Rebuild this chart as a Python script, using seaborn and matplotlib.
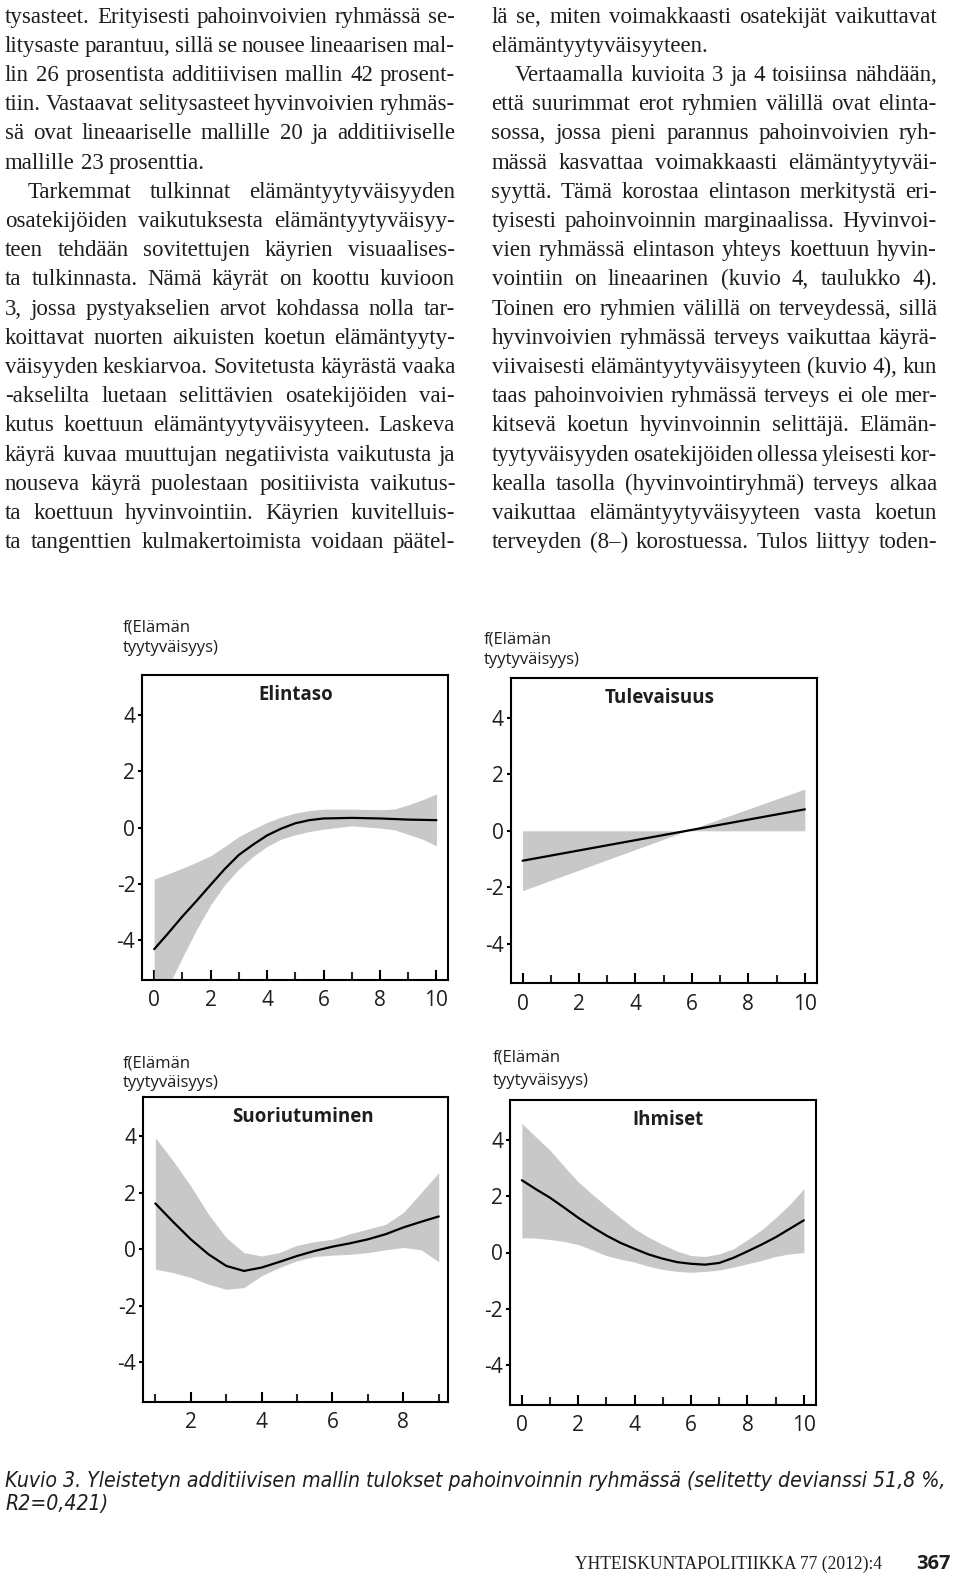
import numpy as np
import pandas as pd
import matplotlib
matplotlib.use("Agg")
import matplotlib.pyplot as plt
import seaborn as sns
from matplotlib.font_manager import FontProperties

# ---------------- data ----------------
# Panel 1: Elintaso
el_x = [0, 0.5, 1, 1.5, 2, 2.5, 3, 3.5, 4, 4.5, 5, 5.5, 6, 7, 8, 8.5, 9, 9.5, 10]
el_fit = [-4.31, -3.74, -3.15, -2.6, -2.03, -1.47, -0.97, -0.61, -0.28, -0.04, 0.15, 0.26, 0.32, 0.34, 0.32, 0.30, 0.28, 0.27, 0.26]
el_upper = [-1.83, -1.64, -1.44, -1.23, -1.0, -0.67, -0.32, -0.06, 0.18, 0.37, 0.51, 0.6, 0.65, 0.65, 0.63, 0.65, 0.8, 0.98, 1.19]
el_lower = [-6.6, -5.63, -4.6, -3.62, -2.74, -2.03, -1.47, -1.03, -0.67, -0.41, -0.26, -0.14, -0.06, 0.06, -0.02, -0.08, -0.24, -0.41, -0.65]

# Panel 2: Tulevaisuus
tu_x = [0, 5.82, 10]
tu_fit = [-1.06, 0.0, 0.76]
tu_upper = [0.0, 0.0, 1.48]
tu_lower = [-2.12, 0.0, 0.0]

# Panel 3: Suoriutuminen
su_x = [1, 1.5, 2, 2.5, 3, 3.5, 4, 4.5, 5, 5.5, 6, 6.5, 7, 7.5, 8, 8.5, 9]
su_fit = [1.62, 0.97, 0.35, -0.18, -0.59, -0.77, -0.65, -0.45, -0.24, -0.06, 0.09, 0.21, 0.35, 0.53, 0.77, 0.97, 1.16]
su_upper = [3.95, 3.13, 2.24, 1.24, 0.41, -0.12, -0.24, -0.12, 0.14, 0.27, 0.35, 0.55, 0.71, 0.88, 1.3, 2.0, 2.71]
su_lower = [-0.71, -0.83, -1.0, -1.24, -1.42, -1.36, -0.94, -0.65, -0.41, -0.26, -0.21, -0.18, -0.12, -0.02, 0.06, -0.02, -0.45]

# Panel 4: Ihmiset
ih_x = [0, 0.5, 1, 1.5, 2, 2.5, 3, 3.5, 4, 4.5, 5, 5.5, 6, 6.5, 7, 7.5, 8, 8.5, 9, 9.5, 10]
ih_fit = [2.56, 2.24, 1.94, 1.59, 1.23, 0.9, 0.6, 0.34, 0.13, -0.07, -0.22, -0.34, -0.4, -0.43, -0.37, -0.19, 0.04, 0.28, 0.54, 0.84, 1.14]
ih_upper = [4.57, 4.09, 3.62, 3.05, 2.5, 2.06, 1.64, 1.23, 0.84, 0.54, 0.28, 0.05, -0.11, -0.14, -0.05, 0.13, 0.45, 0.8, 1.23, 1.7, 2.26]
ih_lower = [0.52, 0.51, 0.46, 0.39, 0.28, 0.09, -0.11, -0.24, -0.34, -0.49, -0.6, -0.67, -0.7, -0.67, -0.62, -0.52, -0.4, -0.28, -0.14, -0.05, 0.0]

panel_titles = ["Elintaso", "Tulevaisuus", "Suoriutuminen", "Ihmiset"]
y_ticks = [-4, -2, 0, 2, 4]
ylabel_lines = ["f(Elämän", "tyytyväisyys)"]

caption_lines = ["Kuvio 3. Yleistetyn additiivisen mallin tulokset pahoinvoinnin ryhmässä (selitetty devianssi 51,8 %,",
                 "R2=0,421)"]
footer_journal = "YHTEISKUNTAPOLITIIKKA 77 (2012):4"
footer_page = "367"

# body text: (text, indent, justify)
left_lines = [
    ("tysasteet. Erityisesti pahoinvoivien ryhmässä se-", 0, True),
    ("litysaste parantuu, sillä se nousee lineaarisen mal-", 0, True),
    ("lin 26 prosentista additiivisen mallin 42 prosent-", 0, True),
    ("tiin. Vastaavat selitysasteet hyvinvoivien ryhmäs-", 0, True),
    ("sä ovat lineaariselle mallille 20 ja additiiviselle", 0, True),
    ("mallille 23 prosenttia.", 0, False),
    ("Tarkemmat tulkinnat elämäntyytyväisyyden", 1, True),
    ("osatekijöiden vaikutuksesta elämäntyytyväisyy-", 0, True),
    ("teen tehdään sovitettujen käyrien visuaalises-", 0, True),
    ("ta tulkinnasta. Nämä käyrät on koottu kuvioon", 0, True),
    ("3, jossa pystyakselien arvot kohdassa nolla tar-", 0, True),
    ("koittavat nuorten aikuisten koetun elämäntyyty-", 0, True),
    ("väisyyden keskiarvoa. Sovitetusta käyrästä vaaka", 0, True),
    ("-akselilta luetaan selittävien osatekijöiden vai-", 0, True),
    ("kutus koettuun elämäntyytyväisyyteen. Laskeva", 0, True),
    ("käyrä kuvaa muuttujan negatiivista vaikutusta ja", 0, True),
    ("nouseva käyrä puolestaan positiivista vaikutus-", 0, True),
    ("ta koettuun hyvinvointiin. Käyrien kuvitelluis-", 0, True),
    ("ta tangenttien kulmakertoimista voidaan päätel-", 0, True),
]
right_lines = [
    ("lä se, miten voimakkaasti osatekijät vaikuttavat", 0, True),
    ("elämäntyytyväisyyteen.", 0, False),
    ("Vertaamalla kuvioita 3 ja 4 toisiinsa nähdään,", 1, True),
    ("että suurimmat erot ryhmien välillä ovat elinta-", 0, True),
    ("sossa, jossa pieni parannus pahoinvoivien ryh-", 0, True),
    ("mässä kasvattaa voimakkaasti elämäntyytyväi-", 0, True),
    ("syyttä. Tämä korostaa elintason merkitystä eri-", 0, True),
    ("tyisesti pahoinvoinnin marginaalissa. Hyvinvoi-", 0, True),
    ("vien ryhmässä elintason yhteys koettuun hyvin-", 0, True),
    ("vointiin on lineaarinen (kuvio 4, taulukko 4).", 0, True),
    ("Toinen ero ryhmien välillä on terveydessä, sillä", 0, True),
    ("hyvinvoivien ryhmässä terveys vaikuttaa käyrä-", 0, True),
    ("viivaisesti elämäntyytyväisyyteen (kuvio 4), kun", 0, True),
    ("taas pahoinvoivien ryhmässä terveys ei ole mer-", 0, True),
    ("kitsevä koetun hyvinvoinnin selittäjä. Elämän-", 0, True),
    ("tyytyväisyyden osatekijöiden ollessa yleisesti kor-", 0, True),
    ("kealla tasolla (hyvinvointiryhmä) terveys alkaa", 0, True),
    ("vaikuttaa elämäntyytyväisyyteen vasta koetun", 0, True),
    ("terveyden (8–) korostuessa. Tulos liittyy toden-", 0, True),
]

# ---------------- styling ----------------
sns.set_style("white")
plt.rcParams["font.family"] = ["Open Sans", "DejaVu Sans"]
plt.rcParams["axes.unicode_minus"] = False

W, H = 960, 1578
fig = plt.figure(figsize=(W / 100, H / 100), dpi=100)
fig.patch.set_facecolor("white")
TXT = "#1e1e1e"
BAND = "#c8c8c8"

def px_axes(x0, y0, x1, y1):
    return fig.add_axes([x0 / W, 1 - y1 / H, (x1 - x0) / W, (y1 - y0) / H])

panels = [
    dict(box=(142.3, 675, 448.3, 980), xlim=(-0.42, 10.42), major=[0, 2, 4, 6, 8, 10], minor=[1, 3, 5, 7, 9],
         x=el_x, fit=el_fit, up=el_upper, lo=el_lower, tx=0.5, lab=(123, 627, 648)),
    dict(box=(510.7, 678.3, 816.7, 983.3), xlim=(-0.42, 10.42), major=[0, 2, 4, 6, 8, 10], minor=[1, 3, 5, 7, 9],
         x=tu_x, fit=tu_fit, up=tu_upper, lo=tu_lower, tx=0.487, lab=(484, 639, 660)),
    dict(box=(143.3, 1096.7, 448.3, 1401.7), xlim=(0.66, 9.27), major=[2, 4, 6, 8], minor=[1, 3, 5, 7, 9],
         x=su_x, fit=su_fit, up=su_upper, lo=su_lower, tx=0.523, lab=(123, 1063, 1083)),
    dict(box=(510, 1100, 815.7, 1405), xlim=(-0.42, 10.42), major=[0, 2, 4, 6, 8, 10], minor=[1, 3, 5, 7, 9],
         x=ih_x, fit=ih_fit, up=ih_upper, lo=ih_lower, tx=0.516, lab=(493, 1058, 1081)),
]

for p, title in zip(panels, panel_titles):
    ax = px_axes(*p["box"])
    df = pd.DataFrame({"x": p["x"], "fit": p["fit"], "up": p["up"], "lo": p["lo"]})
    ax.fill_between(df["x"], df["lo"], df["up"], color=BAND, linewidth=0, zorder=1)
    sns.lineplot(data=df, x="x", y="fit", ax=ax, color="black", linewidth=1.6, zorder=3)
    ax.set_xlim(*p["xlim"])
    ax.set_ylim(-5.4, 5.4)
    ax.set_xticks(p["major"])
    ax.set_xticks(p["minor"], minor=True)
    ax.set_yticks(y_ticks)
    ax.set_xlabel("")
    ax.set_ylabel("")
    for s in ax.spines.values():
        s.set_visible(True)
        s.set_linewidth(1.5)
        s.set_color("black")
    ax.tick_params(axis="x", which="major", direction="in", length=7.5, width=1.5, pad=7.5,
                   labelsize=15, colors="black", bottom=True)
    ax.tick_params(axis="x", which="minor", direction="in", length=5.5, width=1.5, bottom=True)
    ax.tick_params(axis="y", which="major", direction="out", length=3, width=1.5, pad=2,
                   labelsize=15, colors="black", left=True)
    for lbl in ax.get_xticklabels() + ax.get_yticklabels():
        lbl.set_color(TXT)
    ax.text(p["tx"], 0.934, title, transform=ax.transAxes, ha="center", va="center",
            fontsize=13.5, fontweight="bold", color=TXT)
    lx, ly1, ly2 = p["lab"]
    fig.text(lx / W, 1 - ly1 / H, ylabel_lines[0], ha="left", va="center", fontsize=12, color=TXT)
    fig.text(lx / W, 1 - ly2 / H, ylabel_lines[1], ha="left", va="center", fontsize=12, color=TXT)

# ---------------- body text, justified ----------------
renderer = fig.canvas.get_renderer()

def text_w(s, fp):
    w, h, d = renderer.get_text_width_height_descent(s, fp, ismath=False)
    return w

BODY_SIZE = 16.5
INDENT = 23
LINE0, LSTEP = 22.6, 29.2

def put_column(lines, x0, x1):
    for i, (txt, ind, just) in enumerate(lines):
        base = LINE0 + i * LSTEP
        words = txt.split(" ")
        start = x0 + (INDENT if ind else 0)
        avail = x1 - start
        size = BODY_SIZE
        fp = FontProperties(family="Liberation Serif", size=size)
        ws = [text_w(w, fp) for w in words]
        sp = text_w("a a", fp) - text_w("aa", fp)
        n = len(words)
        if just and n > 1:
            min_gap = 0.65 * sp
            need = sum(ws) + (n - 1) * min_gap
            if need > avail:
                size = size * (avail - (n - 1) * min_gap) / sum(ws)
                fp = FontProperties(family="Liberation Serif", size=size)
                ws = [text_w(w, fp) for w in words]
            gap = (avail - sum(ws)) / (n - 1)
        else:
            gap = sp
        x = start
        for w, wd in zip(words, ws):
            fig.text(x / W, 1 - base / H, w, fontproperties=fp, ha="left", va="baseline", color=TXT)
            x += wd + gap

put_column(left_lines, 5, 455)
put_column(right_lines, 491.5, 937)

# ---------------- caption ----------------
cap_fp = FontProperties(family=["Liberation Sans Narrow", "DejaVu Sans"], style="italic", stretch="condensed", size=10)
cw = text_w(caption_lines[0], cap_fp)
cap_fp.set_size(10 * (944 - 5) / cw)
fig.text(5 / W, 1 - 1487.3 / H, caption_lines[0], fontproperties=cap_fp, ha="left", va="baseline", color=TXT)
fig.text(5 / W, 1 - 1510 / H, caption_lines[1], fontproperties=cap_fp, ha="left", va="baseline", color=TXT)

# ---------------- footer ----------------
foot_fp = FontProperties(family="Liberation Serif", size=10)
fw = text_w(footer_journal, foot_fp)
foot_fp.set_size(10 * (882 - 575) / fw)
fig.text(575 / W, 1 - 1569 / H, footer_journal, fontproperties=foot_fp, ha="left", va="baseline", color=TXT)
fig.text(951 / W, 1 - 1569 / H, footer_page, ha="right", va="baseline", fontsize=14.5,
         fontweight="bold", color=TXT)

fig.savefig("out.png", dpi=100, facecolor="white")
